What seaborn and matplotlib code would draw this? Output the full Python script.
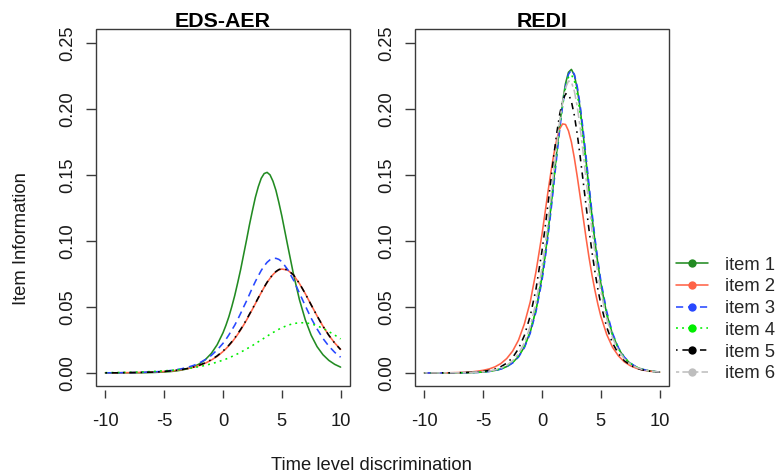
import matplotlib

matplotlib.use("Agg")
import matplotlib.pyplot as plt
import pandas as pd
import seaborn as sns
from matplotlib.lines import Line2D
from matplotlib.patches import Rectangle
from matplotlib.ticker import FormatStrFormatter

# Latent trait grid (x axis); finer around the peaks
theta = [-10.0, -9.5, -9.0, -8.5, -8.0, -7.5, -7.0, -6.5, -6.0, -5.5,
         -5.0, -4.5, -4.0, -3.5, -3.0, -2.5, -2.0, -1.5, -1.0, -0.5,
         0.0, 0.25, 0.5, 0.75, 1.0, 1.25, 1.5, 1.75, 2.0, 2.25, 2.5,
         2.75, 3.0, 3.25, 3.5, 3.75, 4.0, 4.25, 4.5, 4.75, 5.0,
         5.5, 6.0, 6.5, 7.0, 7.5, 8.0, 8.5, 9.0, 9.5, 10.0]

# EDS-AER item information
eds_item1 = [0.0000, 0.0000, 0.0000, 0.0001, 0.0001, 0.0001, 0.0001, 0.0002, 0.0003, 0.0005,
             0.0007, 0.0010, 0.0015, 0.0022, 0.0032, 0.0047, 0.0069, 0.0101, 0.0147, 0.0213,
             0.0304, 0.0361, 0.0426, 0.0503, 0.0587, 0.0683, 0.0783, 0.0895, 0.1006, 0.1122, 0.1228,
             0.1329, 0.1410, 0.1474, 0.1510, 0.1519, 0.1500, 0.1452, 0.1383, 0.1291, 0.1190,
             0.0965, 0.0745, 0.0555, 0.0402, 0.0285, 0.0199, 0.0138, 0.0095, 0.0065, 0.0044]
eds_item2 = [0.0001, 0.0001, 0.0001, 0.0002, 0.0002, 0.0003, 0.0004, 0.0005, 0.0006, 0.0008,
             0.0011, 0.0014, 0.0019, 0.0025, 0.0033, 0.0043, 0.0057, 0.0074, 0.0097, 0.0125,
             0.0162, 0.0183, 0.0206, 0.0232, 0.0261, 0.0292, 0.0326, 0.0362, 0.0400, 0.0441, 0.0482,
             0.0524, 0.0567, 0.0608, 0.0648, 0.0685, 0.0717, 0.0745, 0.0766, 0.0781, 0.0787,
             0.0779, 0.0741, 0.0677, 0.0600, 0.0515, 0.0432, 0.0354, 0.0285, 0.0227, 0.0178]
eds_item3 = [0.0001, 0.0001, 0.0001, 0.0002, 0.0002, 0.0003, 0.0004, 0.0006, 0.0007, 0.0010,
             0.0013, 0.0018, 0.0024, 0.0032, 0.0043, 0.0057, 0.0076, 0.0101, 0.0132, 0.0174,
             0.0224, 0.0254, 0.0288, 0.0325, 0.0362, 0.0405, 0.0451, 0.0499, 0.0545, 0.0595, 0.0645,
             0.0692, 0.0735, 0.0776, 0.0810, 0.0838, 0.0857, 0.0867, 0.0868, 0.0860, 0.0843,
             0.0783, 0.0702, 0.0605, 0.0508, 0.0414, 0.0333, 0.0261, 0.0203, 0.0156, 0.0119]
eds_item4 = [0.0002, 0.0003, 0.0003, 0.0004, 0.0005, 0.0006, 0.0007, 0.0009, 0.0011, 0.0013,
             0.0016, 0.0019, 0.0023, 0.0027, 0.0033, 0.0040, 0.0048, 0.0057, 0.0069, 0.0082,
             0.0097, 0.0105, 0.0114, 0.0124, 0.0135, 0.0145, 0.0157, 0.0169, 0.0182, 0.0194, 0.0207,
             0.0222, 0.0236, 0.0249, 0.0264, 0.0278, 0.0293, 0.0306, 0.0318, 0.0331, 0.0342,
             0.0361, 0.0374, 0.0380, 0.0380, 0.0372, 0.0357, 0.0338, 0.0313, 0.0287, 0.0258]
eds_item5 = [0.0001, 0.0001, 0.0001, 0.0002, 0.0002, 0.0003, 0.0004, 0.0005, 0.0006, 0.0008,
             0.0011, 0.0015, 0.0020, 0.0026, 0.0034, 0.0045, 0.0059, 0.0077, 0.0100, 0.0129,
             0.0166, 0.0188, 0.0210, 0.0237, 0.0265, 0.0297, 0.0330, 0.0366, 0.0404, 0.0445, 0.0485,
             0.0527, 0.0569, 0.0610, 0.0650, 0.0687, 0.0719, 0.0747, 0.0768, 0.0783, 0.0789,
             0.0781, 0.0742, 0.0678, 0.0600, 0.0515, 0.0432, 0.0354, 0.0285, 0.0226, 0.0177]

# REDI item information
redi_item1 = [0.0000, 0.0000, 0.0000, 0.0000, 0.0001, 0.0001, 0.0001, 0.0002, 0.0003, 0.0004,
              0.0007, 0.0012, 0.0019, 0.0030, 0.0048, 0.0078, 0.0124, 0.0197, 0.0311, 0.0481,
              0.0725, 0.0880, 0.1056, 0.1251, 0.1460, 0.1672, 0.1874, 0.2053, 0.2192, 0.2277, 0.2299,
              0.2256, 0.2150, 0.1999, 0.1809, 0.1604, 0.1390, 0.1188, 0.0996, 0.0829, 0.0679,
              0.0447, 0.0290, 0.0184, 0.0116, 0.0072, 0.0045, 0.0028, 0.0017, 0.0011, 0.0007]
redi_item2 = [0.0000, 0.0000, 0.0001, 0.0001, 0.0001, 0.0002, 0.0003, 0.0005, 0.0008, 0.0013,
              0.0020, 0.0030, 0.0046, 0.0071, 0.0109, 0.0165, 0.0248, 0.0371, 0.0538, 0.0772,
              0.1050, 0.1207, 0.1367, 0.1516, 0.1654, 0.1767, 0.1848, 0.1886, 0.1882, 0.1834, 0.1749,
              0.1628, 0.1486, 0.1333, 0.1178, 0.1021, 0.0874, 0.0742, 0.0626, 0.0521, 0.0430,
              0.0292, 0.0194, 0.0129, 0.0084, 0.0055, 0.0036, 0.0023, 0.0015, 0.0010, 0.0006]
redi_item3 = [0.0000, 0.0000, 0.0000, 0.0000, 0.0000, 0.0001, 0.0001, 0.0002, 0.0003, 0.0004,
              0.0007, 0.0011, 0.0018, 0.0029, 0.0047, 0.0075, 0.0120, 0.0191, 0.0301, 0.0467,
              0.0700, 0.0854, 0.1024, 0.1217, 0.1423, 0.1635, 0.1838, 0.2023, 0.2168, 0.2262, 0.2295,
              0.2262, 0.2168, 0.2023, 0.1838, 0.1635, 0.1423, 0.1217, 0.1024, 0.0854, 0.0700,
              0.0467, 0.0301, 0.0191, 0.0120, 0.0075, 0.0047, 0.0029, 0.0018, 0.0011, 0.0007]
redi_item4 = [0.0000, 0.0000, 0.0000, 0.0000, 0.0000, 0.0001, 0.0001, 0.0002, 0.0003, 0.0005,
              0.0008, 0.0012, 0.0020, 0.0031, 0.0050, 0.0080, 0.0128, 0.0201, 0.0316, 0.0485,
              0.0730, 0.0883, 0.1061, 0.1250, 0.1452, 0.1658, 0.1858, 0.2027, 0.2158, 0.2240, 0.2259,
              0.2215, 0.2113, 0.1962, 0.1777, 0.1577, 0.1374, 0.1170, 0.0986, 0.0821, 0.0673,
              0.0448, 0.0288, 0.0185, 0.0116, 0.0073, 0.0046, 0.0028, 0.0018, 0.0011, 0.0007]
redi_item5 = [0.0000, 0.0000, 0.0000, 0.0001, 0.0001, 0.0001, 0.0002, 0.0003, 0.0005, 0.0008,
              0.0012, 0.0019, 0.0030, 0.0047, 0.0074, 0.0116, 0.0183, 0.0283, 0.0431, 0.0641,
              0.0925, 0.1090, 0.1272, 0.1457, 0.1643, 0.1813, 0.1956, 0.2060, 0.2114, 0.2112, 0.2056,
              0.1951, 0.1807, 0.1636, 0.1452, 0.1264, 0.1083, 0.0917, 0.0768, 0.0635, 0.0523,
              0.0347, 0.0226, 0.0146, 0.0093, 0.0059, 0.0037, 0.0024, 0.0015, 0.0009, 0.0006]
redi_item6 = [0.0000, 0.0000, 0.0000, 0.0000, 0.0001, 0.0001, 0.0001, 0.0002, 0.0004, 0.0006,
              0.0009, 0.0014, 0.0023, 0.0036, 0.0058, 0.0092, 0.0145, 0.0227, 0.0352, 0.0536,
              0.0796, 0.0954, 0.1132, 0.1325, 0.1524, 0.1721, 0.1902, 0.2053, 0.2159, 0.2211, 0.2203,
              0.2135, 0.2016, 0.1854, 0.1668, 0.1469, 0.1271, 0.1080, 0.0911, 0.0753, 0.0621,
              0.0411, 0.0267, 0.0171, 0.0107, 0.0068, 0.0043, 0.0027, 0.0017, 0.0010, 0.0007]

item_names = ["item 1", "item 2", "item 3", "item 4", "item 5", "item 6"]
x_ticks = [-10, -5, 0, 5, 10]
y_ticks = [0.00, 0.05, 0.10, 0.15, 0.20, 0.25]

colors = {"item 1": "#228B22", "item 2": "#FF6347", "item 3": "#2848FF",
          "item 4": "#00EE00", "item 5": "#000000", "item 6": "#BEBEBE"}
# seaborn dash specs (on, off, ...) in linewidth units
dashes = {"item 1": "", "item 2": "", "item 3": (4.5, 3), "item 4": (1.2, 2.6),
          "item 5": (1, 3, 4, 3), "item 6": (2, 2, 6, 2)}
mpl_styles = {k: ("-" if v == "" else (0, v)) for k, v in dashes.items()}

panels = [
    ("EDS-AER", dict(zip(item_names[:5], [eds_item1, eds_item2, eds_item3, eds_item4, eds_item5]))),
    ("REDI", dict(zip(item_names, [redi_item1, redi_item2, redi_item3, redi_item4, redi_item5, redi_item6]))),
]


def long_table(series):
    frames = [pd.DataFrame({"theta": theta, "info": vals, "item": name}) for name, vals in series.items()]
    return pd.concat(frames, ignore_index=True)


sns.set_theme(style="white")
plt.rcParams["font.family"] = ["Liberation Sans", "DejaVu Sans"]
plt.rcParams["axes.unicode_minus"] = False

W, H = 778, 474
fig = plt.figure(figsize=(W / 100, H / 100), dpi=100)
frame_color = "#3a3a3a"
fs = 13.2

for left_px, (title, series) in zip([96, 415], panels):
    ax = fig.add_axes([left_px / W, 1 - 386 / H, 254 / W, 357 / H])
    df = long_table(series)
    sns.lineplot(data=df, x="theta", y="info", hue="item", style="item",
                 hue_order=list(series), style_order=list(series),
                 palette=colors, dashes=dashes, linewidth=1.15, legend=False, ax=ax)
    ax.set_xlim(-10.8, 10.8)
    ax.set_ylim(-0.0099, 0.2605)
    ax.set_xticks(x_ticks)
    ax.set_xticklabels([str(t) for t in x_ticks])
    ax.set_yticks(y_ticks)
    ax.yaxis.set_major_formatter(FormatStrFormatter("%.2f"))
    for lab in ax.get_yticklabels():
        lab.set_rotation(90)
        lab.set_va("center")
    # R-style box: frame drawn separately, x ticks hang a little below it
    for sp in ax.spines.values():
        sp.set_visible(False)
    ax.spines["bottom"].set_position(("outward", 3))
    ax.add_patch(Rectangle((0, 0), 1, 1, transform=ax.transAxes, fill=False,
                           edgecolor=frame_color, linewidth=1.0, clip_on=False, zorder=5))
    ax.tick_params(axis="x", direction="out", length=6.0, width=1.0, color=frame_color,
                   pad=10.4, labelsize=fs, labelcolor="#1a1a1a", bottom=True)
    ax.tick_params(axis="y", direction="out", length=7.2, width=1.0, color=frame_color,
                   pad=7.0, labelsize=fs, labelcolor="#1a1a1a", left=True)
    ax.set_xlabel("")
    ax.set_ylabel("")
    cx = (left_px + 127) / W
    fig.text(cx, 1 - 26.7 / H, title, ha="center", va="baseline",
             fontsize=15.4, fontweight="bold", color="black")

fig.text(371.5 / W, 1 - 470 / H, "Time level discrimination", ha="center", va="baseline",
         fontsize=fs, color="#1a1a1a")
fig.text(21.7 / W, 1 - 238.5 / H, "Item Information", ha="center", va="center",
         rotation=90, fontsize=fs, color="#1a1a1a")

handles = [Line2D([], [], color=colors[n], linestyle=mpl_styles[n], linewidth=1.15,
                  marker="o", markersize=6, markeredgewidth=0) for n in item_names]
fig.legend(handles, item_names, loc="center left", bbox_to_anchor=(676 / W, 1 - 319.5 / H),
           frameon=False, fontsize=fs, handlelength=1.77, handletextpad=0.91,
           labelspacing=0.255, borderpad=0, borderaxespad=0)

fig.savefig("out.png", dpi=100)
